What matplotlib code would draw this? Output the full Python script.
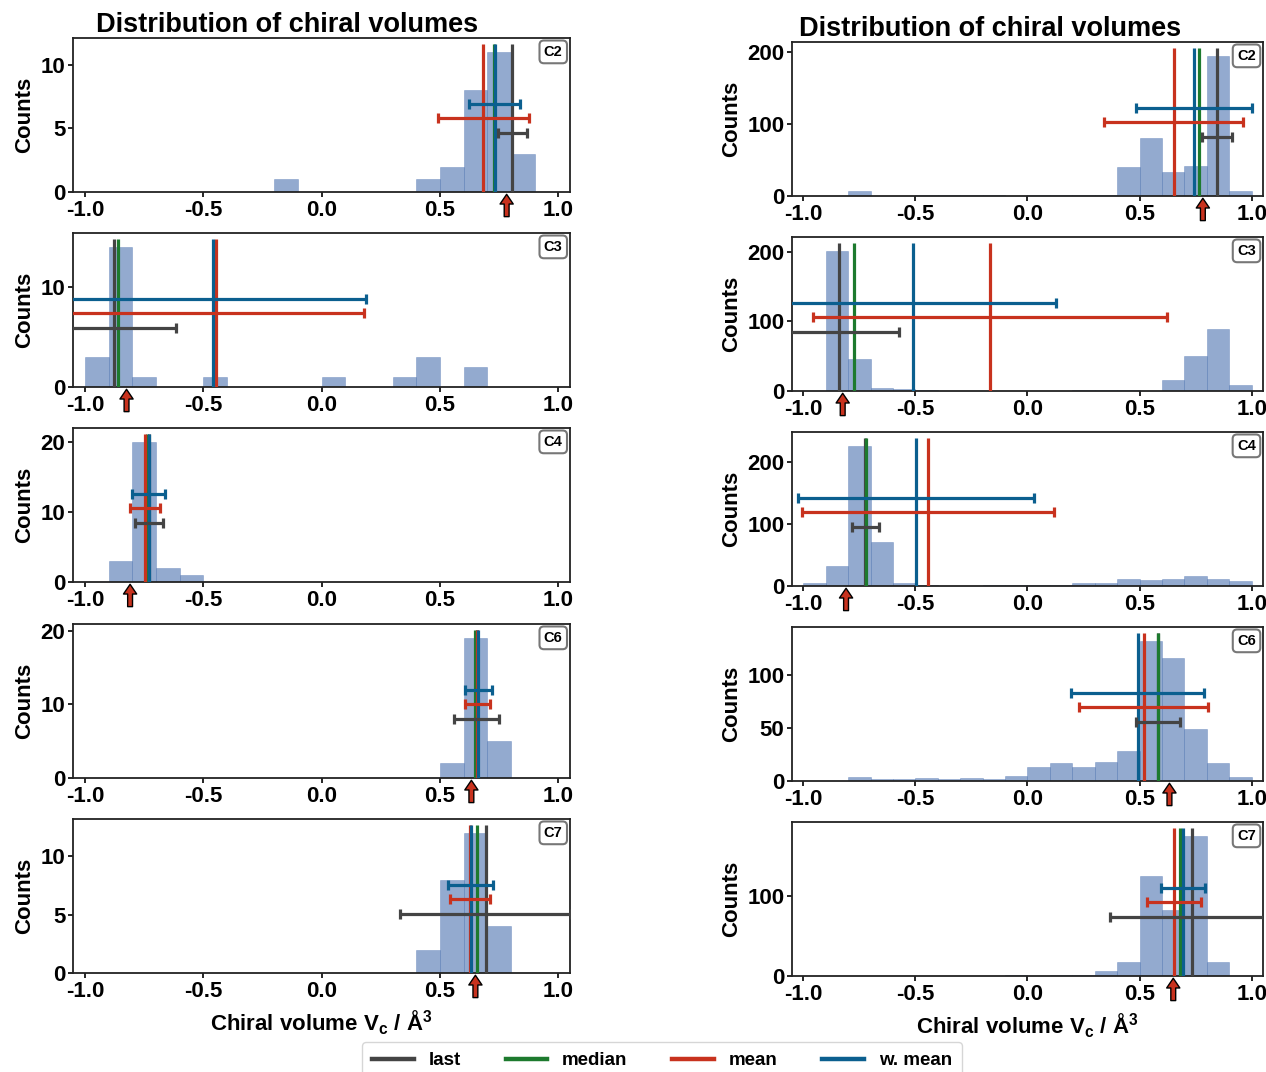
import numpy as np
import matplotlib
matplotlib.use('Agg')
import matplotlib.pyplot as plt
from matplotlib.lines import Line2D
from matplotlib.ticker import MaxNLocator, FormatStrFormatter

# Fonts: bold Arial-like everywhere
plt.rcParams['font.family'] = ['Liberation Sans', 'DejaVu Sans']
plt.rcParams['font.weight'] = 'bold'
plt.rcParams['mathtext.fontset'] = 'custom'
plt.rcParams['mathtext.rm'] = 'Liberation Sans'
plt.rcParams['mathtext.bf'] = 'Liberation Sans:bold'

# Histogram bins (width 0.1 from -1 to 1)
bin_edges = np.round(np.arange(-1.0, 1.001, 0.1), 2)
bin_centers = (bin_edges[:-1] + bin_edges[1:]) / 2

centre_labels = ['C2', 'C3', 'C4', 'C6', 'C7']

# Counts per bin, left column
counts_left_C2 = [0, 0, 0, 0, 0, 0, 0, 0, 1, 0, 0, 0, 0, 0, 1, 2, 8, 11, 3, 0]
counts_left_C3 = [3, 14, 1, 0, 0, 1, 0, 0, 0, 0, 1, 0, 0, 1, 3, 0, 2, 0, 0, 0]
counts_left_C4 = [0, 3, 20, 2, 1, 0, 0, 0, 0, 0, 0, 0, 0, 0, 0, 0, 0, 0, 0, 0]
counts_left_C6 = [0, 0, 0, 0, 0, 0, 0, 0, 0, 0, 0, 0, 0, 0, 0, 2, 19, 5, 0, 0]
counts_left_C7 = [0, 0, 0, 0, 0, 0, 0, 0, 0, 0, 0, 0, 0, 0, 2, 8, 12, 4, 0, 0]

# Counts per bin, right column
counts_right_C2 = [0, 0, 7, 0, 0, 1, 1, 2, 2, 0, 2, 1, 2, 2, 40, 80, 33, 42, 194, 7]
counts_right_C3 = [0, 201, 46, 4, 3, 1, 0, 0, 0, 0, 0, 0, 1, 1, 1, 0, 16, 50, 89, 8]
counts_right_C4 = [4, 32, 226, 71, 4, 1, 0, 0, 1, 1, 1, 1, 4, 4, 12, 9, 12, 16, 12, 8]
counts_right_C6 = [0, 0, 4, 2, 2, 3, 2, 3, 2, 5, 13, 17, 13, 18, 28, 132, 116, 49, 17, 4]
counts_right_C7 = [0, 0, 0, 0, 0, 0, 0, 0, 0, 1, 0, 1, 1, 6, 18, 125, 83, 175, 18, 0]

# Statistics, left column (C2, C3, C4, C6, C7)
last_left = [0.806, -0.878, -0.729, 0.655, 0.693]
last_err_left = [0.060, 0.263, 0.059, 0.095, 0.361]
median_left = [0.728, -0.859, -0.737, 0.650, 0.658]
mean_left = [0.683, -0.448, -0.745, 0.658, 0.626]
mean_err_left = [0.193, 0.628, 0.063, 0.052, 0.085]
wmean_left = [0.731, -0.458, -0.730, 0.662, 0.630]
wmean_err_left = [0.109, 0.644, 0.070, 0.056, 0.095]

# Statistics, right column
last_right = [0.845, -0.840, -0.723, 0.580, 0.732]
last_err_right = [0.065, 0.268, 0.059, 0.098, 0.362]
median_right = [0.765, -0.774, -0.721, 0.584, 0.679]
mean_right = [0.653, -0.168, -0.443, 0.518, 0.654]
mean_err_right = [0.310, 0.790, 0.563, 0.288, 0.119]
wmean_right = [0.742, -0.510, -0.496, 0.491, 0.693]
wmean_err_right = [0.258, 0.637, 0.527, 0.295, 0.098]

# Reference values (red arrows)
ref_values = [0.782, -0.824, -0.809, 0.633, 0.650]

HIST_COLOR = '#4c72b0'
GRAY = '#444444'
GREEN = '#1d7a2e'
RED = '#c8321e'
BLUE = '#0b5f8f'


# Function to draw one histogram panel with its statistics
def draw_panel(ax, counts, last, last_err, median, mean, mean_err, wmean, wmean_err, ref, label):
    ax.hist(bin_centers, bins=bin_edges, weights=counts, color=HIST_COLOR, alpha=0.6,
            edgecolor=HIST_COLOR, linewidth=0.4)
    top = max(counts)

    # vertical lines for the estimates
    ax.vlines(last, 0, top * 1.06, color=GRAY, lw=2.3, zorder=3)
    ax.vlines(median, 0, top * 1.06, color=GREEN, lw=2.3, zorder=3)
    ax.vlines(mean, 0, top * 1.06, color=RED, lw=2.3, zorder=3)
    ax.vlines(wmean, 0, top * 1.06, color=BLUE, lw=2.3, zorder=3)

    # horizontal error bars
    ax.errorbar(last, top * 0.42, xerr=last_err, fmt='none', ecolor=GRAY, elinewidth=2.3,
                capsize=3.5, capthick=2.3, zorder=4)
    ax.errorbar(mean, top * 0.525, xerr=mean_err, fmt='none', ecolor=RED, elinewidth=2.3,
                capsize=3.5, capthick=2.3, zorder=4)
    ax.errorbar(wmean, top * 0.63, xerr=wmean_err, fmt='none', ecolor=BLUE, elinewidth=2.3,
                capsize=3.5, capthick=2.3, zorder=4)

    ax.set_xlim(-1.05, 1.05)
    ax.set_ylim(0, top * 1.1)
    ax.set_xticks([-1.0, -0.5, 0.0, 0.5, 1.0])
    ax.xaxis.set_major_formatter(FormatStrFormatter('%.1f'))
    ax.yaxis.set_major_locator(MaxNLocator(nbins=3, steps=[1, 2, 2.5, 5, 10]))
    ax.tick_params(labelsize=16, length=3.5, width=1.2, pad=2)
    for sp in ax.spines.values():
        sp.set_linewidth(1.3)
        sp.set_color('#222222')
    ax.set_ylabel('Counts', fontsize=16, fontweight='bold', labelpad=4)

    # reference value arrow below the axis
    ax.annotate('', xy=(ref, -0.015), xytext=(ref, -0.16),
                xycoords=('data', 'axes fraction'), textcoords=('data', 'axes fraction'),
                arrowprops=dict(facecolor=RED, edgecolor='black', width=3.5, headwidth=9.5,
                                headlength=7, lw=1),
                annotation_clip=False)

    # centre label
    ax.text(0.985, 0.955, label, transform=ax.transAxes, ha='right', va='top',
            fontsize=10.5, fontweight='bold',
            bbox=dict(boxstyle='round,pad=0.3', fc='white', ec='#777777', lw=1.5))


fig = plt.figure(figsize=(12.66, 10.72), dpi=100)

left_counts = [counts_left_C2, counts_left_C3, counts_left_C4, counts_left_C6, counts_left_C7]
right_counts = [counts_right_C2, counts_right_C3, counts_right_C4, counts_right_C6, counts_right_C7]

left_bottoms = [0.8209, 0.6390, 0.4571, 0.2743, 0.0924]
right_bottoms = [0.8172, 0.6353, 0.4534, 0.2715, 0.0896]
panel_h = 0.1437

for i in range(5):
    axl = fig.add_axes([0.0577, left_bottoms[i], 0.3926, panel_h])
    draw_panel(axl, left_counts[i], last_left[i], last_err_left[i], median_left[i],
               mean_left[i], mean_err_left[i], wmean_left[i], wmean_err_left[i],
               ref_values[i], centre_labels[i])
    axr = fig.add_axes([0.6256, right_bottoms[i], 0.3720, panel_h])
    draw_panel(axr, right_counts[i], last_right[i], last_err_right[i], median_right[i],
               mean_right[i], mean_err_right[i], wmean_right[i], wmean_err_right[i],
               ref_values[i], centre_labels[i])
    if i == 0:
        axl.set_title('Distribution of chiral volumes', fontsize=19.5, fontweight='bold', x=0.43, pad=3)
        axr.set_title('Distribution of chiral volumes', fontsize=19.5, fontweight='bold', x=0.42, pad=3)
    if i == 4:
        xlab = r'Chiral volume V$_{\mathbf{c}}$ / Å$^{\mathbf{3}}$'
        axl.set_xlabel(xlab, fontsize=16, fontweight='bold', labelpad=5)
        axr.set_xlabel(xlab, fontsize=16, fontweight='bold', labelpad=5)

# Shared legend at the bottom (runs off the lower edge as in the original)
handles = [Line2D([], [], color=GRAY, lw=3.2), Line2D([], [], color=GREEN, lw=3.2),
           Line2D([], [], color=RED, lw=3.2), Line2D([], [], color=BLUE, lw=3.2)]
fig.legend(handles, ['last', 'median', 'mean', 'w. mean'], loc='upper center',
           bbox_to_anchor=(0.523, 0.028), borderaxespad=0, ncol=4, fontsize=13.5,
           handlelength=2.2, columnspacing=2.4, borderpad=0.55, frameon=True)

fig.savefig('out.png', dpi=100)
